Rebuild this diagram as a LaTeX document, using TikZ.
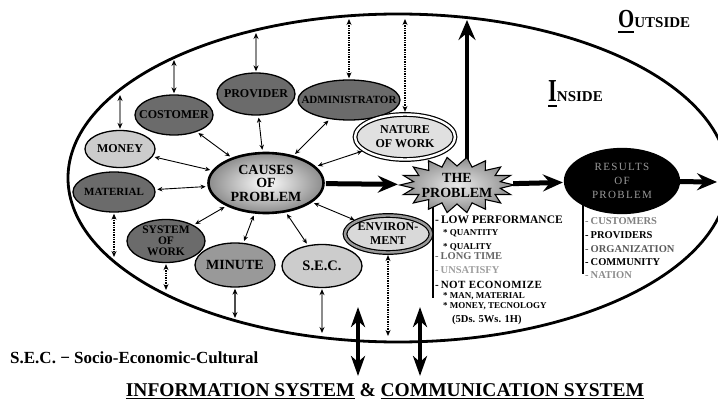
\documentclass[tikz,border=0pt]{standalone}
\usepackage{fontspec}
\setmainfont{Liberation Serif}
\usetikzlibrary{shapes.geometric,arrows.meta}
\newcommand\fs[2]{\fontsize{#1}{#2}\selectfont}
\newcommand\myul[2]{\setbox0\hbox{#2}\leavevmode\rlap{\rule[#1]{\wd0}{1.5pt}}\box0\relax}
\begin{document}
\begin{tikzpicture}[x=1pt,y=-1pt,
  bub/.style={ellipse, draw=black, line width=1.3pt, inner sep=0pt},
  dkb/.style={bub, fill=black!58},
  mdb/.style={bub, fill=black!40},
  ltb/.style={bub, fill=black!20},
  dbl/.style={bub, line width=1.2pt, double distance=2.4pt},
  txt/.style={inner sep=0pt, align=center, font=\bfseries\fs{12}{11}},
  spoke/.style={line width=0.9pt, {Stealth[length=5pt,width=4.5pt]}-{Stealth[length=5pt,width=4.5pt]}, shorten <=2pt, shorten >=2pt},
  grayv/.style={line width=1.8pt, draw=black!45, {Stealth[length=6pt,width=5pt,color=black]}-{Stealth[length=6pt,width=5pt,color=black]}},
  dotv/.style={line width=1.4pt, densely dotted, {Stealth[length=6pt,width=5pt]}-{Stealth[length=6pt,width=5pt]}},
  bigarr/.style={line width=5pt, -{Stealth[length=20pt,width=17pt,inset=7pt]}},
  bigdbl/.style={line width=4.5pt, {Stealth[length=20pt,width=14pt,inset=6pt]}-{Stealth[length=20pt,width=14pt,inset=6pt]}},
  lst/.style={anchor=base west, inner sep=0pt, font=\bfseries\fs{11}{11}},
  sml/.style={anchor=base west, inner sep=0pt, font=\bfseries\fs{9}{9}},
]
\useasboundingbox (0,0) rectangle (718,401);

% outer world
\draw[line width=2.8pt] (398,178) ellipse [x radius=330pt, y radius=164pt];

% vertical arrow up and list lines
\coordinate (upB) at (467,170);
\coordinate (upT) at (467,20);
\draw[bigarr, line width=4.5pt] (upB) -- (upT);
\coordinate (pl1) at (433,200);
\coordinate (pl2) at (433,298);
\draw[line width=1.8pt] (pl1) -- (pl2);
\coordinate (rl1) at (583,205);
\coordinate (rl2) at (583,274);
\draw[line width=1.8pt] (rl1) -- (rl2);

% the problem (star)
\draw[line width=1.1pt, inner color=black!8, outer color=black!45]
  plot[samples at={0,...,35}] ({457+(mod(\x,2)==0 ? 57 : 44)*cos(\x*10)}, {185+(mod(\x,2)==0 ? 28 : 19)*sin(\x*10)}) -- cycle;
\node[ellipse, minimum width=112pt, minimum height=44pt, inner sep=0pt] (prob) at (457,185) {};
\node[txt, font=\bfseries\fs{14}{15}] (probt) at (prob) {THE\\PROBLEM};

% results
\node[bub, fill=black, minimum width=115pt, minimum height=65pt] (res) at (622,181) {};
\node[txt, font=\fs{11}{14}\addfontfeature{LetterSpace=12}, text=black!40] (rest) at (res) {RESULTS\\OF\\PROBLEM};

% cause nodes
\node[dkb, minimum width=78pt, minimum height=40pt] (cost) at (174,115) {};
\node[dkb, minimum width=78pt, minimum height=42pt] (prov) at (256,94) {};
\node[dkb, minimum width=102pt, minimum height=40pt] (admin) at (349,100) {};
\node[dbl, draw=black, double=white, fill=black!12, minimum width=100pt, minimum height=45pt] (nat) at (405,137) {};
\node[ltb, minimum width=70pt, minimum height=37pt] (money) at (120,149) {};
\node[dkb, minimum width=82pt, minimum height=40pt] (mat) at (114,192) {};
\node[bub, line width=2.6pt, inner color=white, outer color=black!45, minimum width=115pt, minimum height=60pt] (causes) at (266,183) {};
\node[dkb, minimum width=78pt, minimum height=43pt] (sys) at (166,241) {};
\node[mdb, minimum width=80pt, minimum height=44pt] (minute) at (235,265) {};
\node[ltb, minimum width=80pt, minimum height=43pt] (sec) at (322,266) {};
\node[dbl, draw=black, double=black!40, fill=black!15, minimum width=86pt, minimum height=37pt] (env) at (388,234) {};

\node[txt] (costt) at (cost) {COSTOMER};
\node[txt] (provt) at (prov) {PROVIDER};
\node[txt, font=\bfseries\fs{11}{11}] (admint) at (admin) {ADMINISTRATOR};
\node[txt, font=\bfseries\fs{12}{14}] (natt) at (nat) {NATURE\\OF WORK};
\node[txt] (moneyt) at (money) {MONEY};
\node[txt, font=\bfseries\fs{11}{11}] (matt) at (mat) {MATERIAL};
\node[txt, font=\bfseries\fs{14}{13.5}] (causest) at (causes) {CAUSES\\OF\\PROBLEM};
\node[txt, font=\bfseries\fs{11.5}{11}] (syst) at (sys) {SYSTEM\\OF\\WORK};
\node[txt, font=\bfseries\fs{14}{13}] (minutet) at (minute) {MINUTE};
\node[txt, font=\bfseries\fs{14.5}{13}] (sect) at (sec) {S.E.C.};
\node[txt, font=\bfseries\fs{12}{14}] (envt) at (env) {ENVIRON-\\MENT};

% spokes
\foreach \n in {cost,prov,admin,nat,money,mat,sys,minute,sec,env}
  \draw[spoke] (causes) -- (\n);

% connectors to the outside
\coordinate (costE) at (174,60);
\coordinate (moneyE) at (120,95);
\coordinate (provE) at (256,33);
\coordinate (adminE) at (349,19);
\coordinate (natE) at (405,19);
\coordinate (matE) at (114,257);
\coordinate (sysE) at (166,290);
\coordinate (minE) at (235,318);
\coordinate (secE) at (322,333);
\coordinate (envE) at (388,336);
\draw[grayv, shorten <=1pt] (cost.north) -- (costE);
\draw[grayv, shorten <=1pt] (money.north) -- (moneyE);
\draw[grayv, shorten <=1pt] (prov.north) -- (provE);
\draw[dotv, shorten <=1pt] (admin.north) -- (adminE);
\draw[dotv, shorten <=2pt] (nat.north) -- (natE);
\draw[dotv, shorten <=1pt] (mat.south) -- (matE);
\draw[dotv, shorten <=1pt] (sys.south) -- (sysE);
\draw[grayv, draw=black!70, shorten <=1pt] (minute.south) -- (minE);
\draw[grayv, shorten <=1pt] (sec.south) -- (secE);
\draw[dotv, shorten <=2pt] (env.south) -- (envE);

% main flow
\coordinate (outR) at (717,182);
\draw[bigarr, shorten <=1pt, shorten >=3pt] (causes) -- (prob);
\draw[bigarr, shorten >=1pt] (prob) -- (res);
\draw[bigarr] (res) -- (outR);

% information arrows
\coordinate (ia1) at (358,307);
\coordinate (ia2) at (358,376);
\coordinate (ib1) at (420,307);
\coordinate (ib2) at (420,376);
\draw[bigdbl] (ia1) -- (ia2);
\draw[bigdbl] (ib1) -- (ib2);

% problem list
\node[lst, font=\bfseries\fs{11.5}{11}] (l1) at (435,223) {-\hspace{2pt}LOW PERFORMANCE};
\node[sml] (l2) at (443,235) {* QUANTITY};
\node[sml] (l3) at (443,249) {* QUALITY};
\node[lst, font=\bfseries\fs{10.5}{11}, text=black!60] (l4) at (435,259) {-\hspace{2pt}LONG TIME};
\node[lst, font=\bfseries\fs{10.5}{11}, text=black!38] (l5) at (435,273) {-\hspace{2pt}UNSATISFY};
\node[lst, font=\bfseries\fs{11}{11}\addfontfeature{LetterSpace=4}] (l6) at (435,288) {-\hspace{2pt}NOT ECONOMIZE};
\node[sml] (l7) at (443,298) {* MAN, MATERIAL};
\node[sml] (l8) at (443,308) {* MONEY, TECNOLOGY};
\node[lst, font=\bfseries\fs{10.5}{11}] (l9) at (452,322) {(5Ds. 5Ws. 1H)};

% results list
\node[lst, font=\bfseries\fs{10.5}{11}, text=black!50] (r1) at (585,225) {-\hspace{2pt}CUSTOMERS};
\node[lst, font=\bfseries\fs{10.5}{11}] (r2) at (585,238) {-\hspace{2pt}PROVIDERS};
\node[lst, font=\bfseries\fs{10.5}{11}, text=black!65] (r3) at (585,252) {-\hspace{2pt}ORGANIZATION};
\node[lst, font=\bfseries\fs{10.5}{11}] (r4) at (585,265) {-\hspace{2pt}COMMUNITY};
\node[lst, font=\bfseries\fs{10.5}{11}, text=black!45] (r5) at (585,278) {-\hspace{2pt}NATION};

% labels
\node[anchor=base west, inner sep=0pt, font=\bfseries] (outside) at (618,28) {\myul{-5pt}{\scalebox{0.8}[1]{\fs{26}{26}O}}\fs{15}{15}UTSIDE};
\node[anchor=base west, inner sep=0pt, font=\bfseries] (inside) at (548,102) {\myul{-5pt}{\scalebox{0.7}[1]{\fs{32}{32}I}}\fs{15}{15}NSIDE};
\node[anchor=base west, inner sep=0pt, font=\bfseries\fs{17}{17}] (secnote) at (10,363) {S.E.C. {\char"2212} Socio-Economic-Cultural};
\node[anchor=base, inner sep=0pt, font=\bfseries\fs{19.5}{20}] (title) at (385,396) {\myul{-3pt}{INFORMATION SYSTEM} \& \myul{-3pt}{COMMUNICATION SYSTEM}};
\end{tikzpicture}
\end{document}
